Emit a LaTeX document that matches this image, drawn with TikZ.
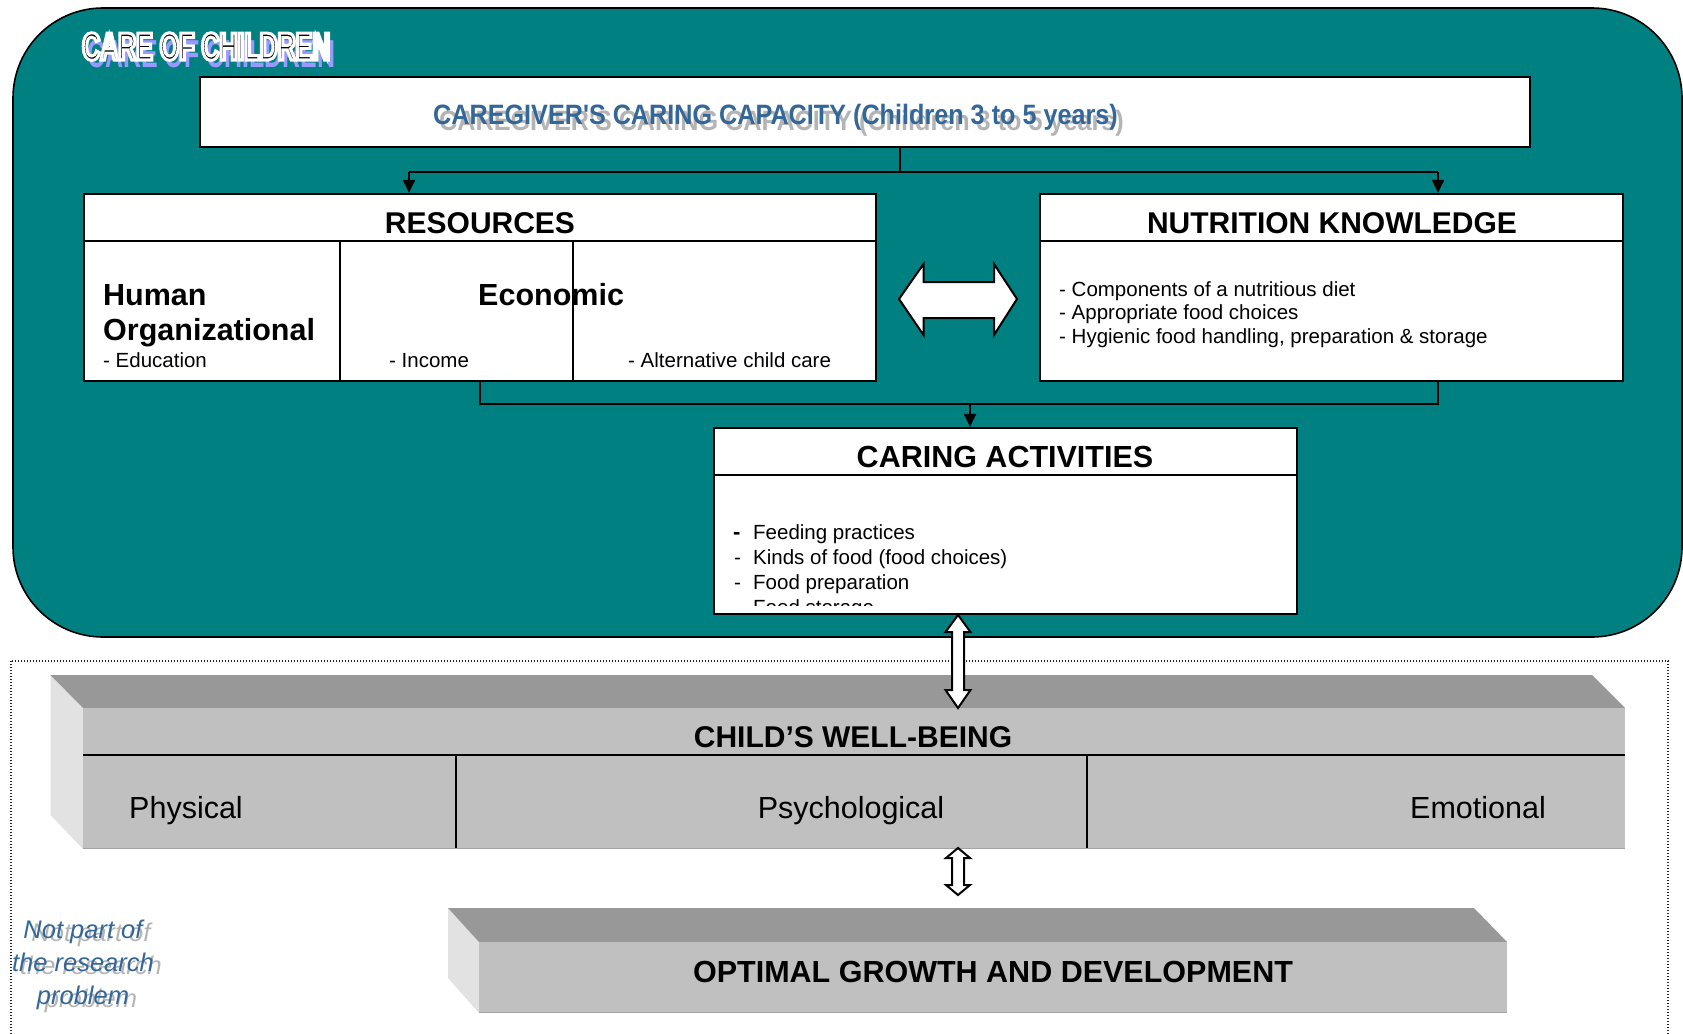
\documentclass[tikz,border=0pt]{standalone}
\usepackage{fontspec}
\setmainfont{Liberation Sans}
\newfontfamily\narrowsans[FakeStretch=0.9]{Liberation Sans}
\newfontfamily\tightsans[FakeStretch=0.64]{Liberation Sans}
\usetikzlibrary{arrows.meta}
\definecolor{tealbg}{HTML}{008080}
\definecolor{capblue}{HTML}{336699}
\definecolor{shadowgray}{HTML}{B4B4B4}
\definecolor{shadowviolet}{HTML}{9999FF}
\definecolor{barfront}{HTML}{C0C0C0}
\definecolor{bartop}{HTML}{989898}
\definecolor{barside}{HTML}{E2E2E2}
\definecolor{baredge}{HTML}{A4A4A4}

\begin{document}
\begin{tikzpicture}[x=1pt,y=-1pt,
  panel/.style={draw=black,line width=2.2pt,fill=white,inner sep=0pt},
  link/.style={draw=black,line width=2pt},
  tipped/.style={-{Triangle[length=13pt,width=12pt]}},
  blockarrow/.style={draw=black,fill=white,line width=2pt,line join=miter},
  heading/.style={font=\fontsize{30}{36}\selectfont\bfseries,inner sep=0pt,anchor=base},
  subhead/.style={font=\fontsize{30.5}{36}\selectfont\bfseries,inner sep=0pt,anchor=base west},
  entry/.style={font=\fontsize{20.5}{24}\selectfont,inner sep=0pt,anchor=base west},
  facet/.style={font=\fontsize{30.5}{36}\selectfont,inner sep=0pt},
  note/.style={font=\fontsize{25.5}{30}\selectfont\itshape,inner sep=0pt,anchor=base},
  captitle/.style={font=\narrowsans\fontsize{28}{34}\selectfont\bfseries,inner sep=0pt,anchor=base west},
  bigtitle/.style={font=\tightsans\fontsize{39}{44}\selectfont\bfseries,inner sep=0pt,anchor=base west},
]
\useasboundingbox (0,0) rectangle (1683,1033);

% ---------- care of children panel ----------
\node[draw=black,line width=1.6pt,fill=tealbg,rounded corners=90pt,
      minimum width=1669pt,minimum height=629pt,inner sep=0pt] (care) at (847.5,322.5) {};

\node[bigtitle,text=shadowviolet] (careshadow) at (87,67) {CARE OF CHILDREN};
\node[bigtitle,text=black] (caretitle) at (82,60)
  {\special{pdf:literal direct 2 Tr 1 1 1 RG 3 w}CARE OF CHILDREN\special{pdf:literal direct 0 Tr}};

% caregiver capacity
\node[panel,minimum width=1330pt,minimum height=70pt] (cap) at (865,112) {};
\node[captitle,text=shadowgray] (capshadow) at (439,130) {CAREGIVER'S CARING CAPACITY (Children 3 to 5 years)};
\node[captitle,text=capblue] (captext) at (433,124) {CAREGIVER'S CARING CAPACITY (Children 3 to 5 years)};

% resources
\node[panel,minimum width=792pt,minimum height=187pt] (res) at (480,287.5) {};
\draw[line width=1.8pt] (84,241) -- (876,241);
\draw[line width=1.6pt] (340,241) -- (340,381);
\draw[line width=1.6pt] (573,241) -- (573,381);
\node[heading] (restitle) at (480,233) {RESOURCES};
\node[subhead] (human) at (103,305) {Human};
\node[subhead] (organ) at (103,340) {Organizational};
\node[entry] (educ) at (103,367) {- Education};
\node[subhead] (econ) at (478,305) {Economic};
\node[entry] (income) at (389,367) {- Income};
\node[entry] (altcare) at (628,367) {- Alternative child care};

% nutrition knowledge
\node[panel,minimum width=583pt,minimum height=187pt] (nk) at (1331.5,287.5) {};
\draw[line width=1.8pt] (1040,241) -- (1623,241);
\node[heading] (nktitle) at (1332,233) {NUTRITION KNOWLEDGE};
\node[entry] (nk1) at (1059,296) {- Components of a nutritious diet};
\node[entry] (nk2) at (1059,319.5) {- Appropriate food choices};
\node[entry] (nk3) at (1059,343) {- Hygienic food handling, preparation \& storage};

% two-way block arrow between resources and knowledge
\draw[blockarrow] (899,299) -- (923.5,264) -- (923.5,282) -- (994,282) -- (994,264)
  -- (1017,299) -- (994,335) -- (994,318) -- (923.5,318) -- (923.5,335) -- cycle;

% caring activities
\node[panel,minimum width=583pt,minimum height=186pt] (ca) at (1005.5,521) {};
\draw[line width=1.8pt] (714,475) -- (1297,475);
\node[heading,font=\fontsize{30.5}{36}\selectfont\bfseries] (catitle) at (1005,467) {CARING ACTIVITIES};
\begin{scope}
  \clip (716,477) rectangle (1295,605);
  \node[entry,font=\fontsize{22}{24}\selectfont\bfseries] (d1) at (733,539) {-};
  \node[entry] (c1) at (753,539) {Feeding practices};
  \node[entry] (d2) at (734,564) {-};
  \node[entry] (c2) at (753,564) {Kinds of food (food choices)};
  \node[entry] (d3) at (734,589) {-};
  \node[entry] (c3) at (753,589) {Food preparation};
  \node[entry] (d4) at (734,614) {-};
  \node[entry] (c4) at (753,614) {Food storage};
\end{scope}

% connectors inside the panel
\coordinate (capdrop) at (900,147);
\coordinate (busL) at (409,172);
\coordinate (busR) at (1438,172);
\coordinate (merge) at (970,404);
\draw[link] (capdrop) |- (busL);
\draw[link] (capdrop) |- (busR);
\draw[link,tipped] (busL) -- (busL |- res.north);
\draw[link,tipped] (busR) -- (busR |- nk.north);
\draw[link] (res.south) |- (merge) -| (nk.south -| busR);
\draw[link,tipped] (merge) -- (merge |- ca.north);

% ---------- outside the research problem ----------
\draw[line width=1.3pt,dash pattern=on 1.3pt off 1.7pt,black!85] (11,661) rectangle (1668,1060);

% child's well-being bar
\path[fill=barside] (50.5,675) -- (83,708) -- (83,849) -- (50.5,815) -- cycle;
\path[fill=bartop] (50.5,675) -- (1592,675) -- (1625,708) -- (83,708) -- cycle;
\node[fill=barfront,minimum width=1542pt,minimum height=141pt,inner sep=0pt] (wb) at (854,778.5) {};
\draw[baredge,line width=1.6pt] (83,848.5) -- (1625,848.5);
\draw[line width=2pt] (83,755) -- (1625,755);
\draw[line width=1.6pt] (456,755) -- (456,848);
\draw[line width=1.6pt] (1087,755) -- (1087,848);
\node[heading] (wbtitle) at (853,747) {CHILD'S WELL-BEING};
\node[facet,anchor=base west] (phys) at (129,818) {Physical};
\node[facet,anchor=base] (psych) at (851,818) {Psychological};
\node[facet,anchor=base east] (emot) at (1546,818) {Emotional};

% optimal growth bar
\path[fill=barside] (448,908) -- (479,942) -- (479,1013) -- (448,978) -- cycle;
\path[fill=bartop] (448,908) -- (1474,908) -- (1507,942) -- (479,942) -- cycle;
\node[fill=barfront,minimum width=1028pt,minimum height=71pt,inner sep=0pt] (og) at (993,977.5) {};
\draw[baredge,line width=1.6pt] (479,1012.5) -- (1507,1012.5);
\node[heading,font=\fontsize{30.5}{36}\selectfont\bfseries] (ogtitle) at (993,982) {OPTIMAL GROWTH AND DEVELOPMENT};

% two-way arrows between the levels
\draw[blockarrow] (958,615) -- (970.5,632) -- (964,632) -- (964,690) -- (970.5,690)
  -- (958,708) -- (945.5,690) -- (952,690) -- (952,632) -- (945.5,632) -- cycle;
\draw[blockarrow] (958,848) -- (970,858) -- (964,858) -- (964,885) -- (970,885)
  -- (958,895) -- (946,885) -- (952,885) -- (952,858) -- (946,858) -- cycle;

% side note
\node[note,text=shadowgray] (np1s) at (91,941) {Not part of};
\node[note,text=shadowgray] (np2s) at (91,974) {the research};
\node[note,text=shadowgray] (np3s) at (91,1007) {problem};
\node[note,text=capblue] (np1) at (83,938) {Not part of};
\node[note,text=capblue] (np2) at (83,971) {the research};
\node[note,text=capblue] (np3) at (83,1004) {problem};
\end{tikzpicture}
\end{document}
